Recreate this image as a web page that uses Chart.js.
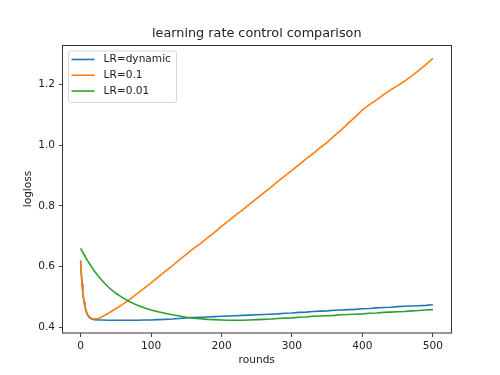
<!DOCTYPE html>
<html>
<head>
<meta charset="utf-8">
<script src="https://cdn.jsdelivr.net/npm/chart.js@4/dist/chart.umd.min.js"></script>
<style>
  html, body { margin: 0; padding: 0; background: #fff; }
  #lrChart { display: block; }
</style>
</head>
<body>
<canvas id="lrChart" width="500" height="375"></canvas>
<script>
// Data
const rounds = [0, 1, 2, 3, 4, 5, 6, 8, 10, 12, 15, 18, 20, 25, 30,
  40, 50, 60, 70, 80, 90, 100, 110, 120, 130, 140, 150, 160, 170, 180, 190,
  200, 210, 220, 230, 240, 250, 260, 270, 280, 290, 300, 310, 320, 330, 340,
  350, 360, 370, 380, 390, 400, 410, 420, 430, 440, 450, 460, 470, 480, 490, 500];

const lrDynamic = [0.620, 0.577, 0.543, 0.518, 0.497, 0.481, 0.468, 0.451, 0.440, 0.433, 0.428, 0.426, 0.425, 0.424, 0.424,
  0.423, 0.423, 0.423, 0.423, 0.423, 0.424, 0.424, 0.425, 0.426, 0.427, 0.429, 0.431, 0.432, 0.433, 0.434, 0.435,
  0.436, 0.437, 0.438, 0.439, 0.440, 0.441, 0.442, 0.443, 0.444, 0.446, 0.447, 0.449, 0.450, 0.452, 0.453,
  0.454, 0.456, 0.457, 0.458, 0.459, 0.461, 0.462, 0.464, 0.465, 0.466, 0.468, 0.469, 0.470, 0.471, 0.472, 0.474];

const lr01 = [0.620, 0.578, 0.545, 0.520, 0.500, 0.484, 0.471, 0.454, 0.443, 0.436, 0.430, 0.427, 0.427, 0.429, 0.434,
  0.447, 0.461, 0.476, 0.493, 0.510, 0.528, 0.546, 0.565, 0.584, 0.602, 0.622, 0.640, 0.659, 0.676, 0.695, 0.713,
  0.733, 0.751, 0.770, 0.787, 0.806, 0.825, 0.843, 0.861, 0.881, 0.899, 0.917, 0.936, 0.955, 0.973, 0.992,
  1.010, 1.031, 1.051, 1.073, 1.094, 1.117, 1.134, 1.150, 1.167, 1.183, 1.197, 1.212, 1.229, 1.247, 1.266, 1.287];

const lr001 = [0.660, 0.656, 0.651, 0.647, 0.643, 0.639, 0.635, 0.627, 0.619, 0.612, 0.601, 0.591, 0.584, 0.569, 0.555,
  0.531, 0.512, 0.497, 0.484, 0.473, 0.464, 0.457, 0.451, 0.446, 0.441, 0.437, 0.433, 0.430, 0.428, 0.426, 0.425,
  0.424, 0.423, 0.423, 0.423, 0.424, 0.425, 0.426, 0.427, 0.429, 0.430, 0.431, 0.433, 0.434, 0.436, 0.437,
  0.438, 0.439, 0.441, 0.442, 0.443, 0.444, 0.446, 0.447, 0.449, 0.450, 0.451, 0.452, 0.454, 0.455, 0.457, 0.458];

const seriesNames = ['LR=dynamic', 'LR=0.1', 'LR=0.01'];
const xTickValues = [0, 100, 200, 300, 400, 500];
const yTickValues = [0.4, 0.6, 0.8, 1.0, 1.2];

const FONT = 'DejaVu Sans';
const colors = ['#1f77b4', '#ff7f0e', '#2ca02c'];

function toPoints(ys) {
  return rounds.map((r, i) => ({ x: r, y: ys[i] }));
}

// frame (all four spines) + matplotlib style legend in the upper left
const framePlugin = {
  id: 'framePlugin',
  afterDraw(chart) {
    const ctx = chart.ctx;
    const a = chart.chartArea;
    ctx.save();
    ctx.strokeStyle = '#333';
    ctx.lineWidth = 1;
    ctx.strokeRect(Math.round(a.left) - 0.5, Math.round(a.top) + 0.5,
      Math.round(a.right - a.left) + 1, Math.round(a.bottom - a.top) - 0.5);

    // legend box
    const bx = a.left + 5, by = a.top + 5.5, bw = 108, bh = 51.5;
    ctx.beginPath();
    ctx.roundRect(bx + 0.5, by + 0.5, bw, bh, 2.5);
    ctx.fillStyle = 'rgba(255,255,255,0.8)';
    ctx.fill();
    ctx.strokeStyle = '#d6d6d6';
    ctx.lineWidth = 1;
    ctx.stroke();

    ctx.font = '10.6px "' + FONT + '"';
    ctx.textBaseline = 'middle';
    ctx.fillStyle = '#222';
    chart.data.datasets.forEach((ds, i) => {
      const rowY = by + 9 + i * 15.8;
      ctx.beginPath();
      ctx.moveTo(bx + 3.5, rowY);
      ctx.lineTo(bx + 26.5, rowY);
      ctx.strokeStyle = ds.borderColor;
      ctx.lineWidth = 1.6;
      ctx.stroke();
      ctx.fillText(ds.label, bx + 35.5, rowY);
    });
    ctx.restore();
  }
};

const ctx = document.getElementById('lrChart').getContext('2d');
const chart = new Chart(ctx, {
  type: 'line',
  data: {
    datasets: [
      { label: seriesNames[0], data: toPoints(lrDynamic), borderColor: colors[0], order: 3 },
      { label: seriesNames[1], data: toPoints(lr01), borderColor: colors[1], order: 2 },
      { label: seriesNames[2], data: toPoints(lr001), borderColor: colors[2], order: 1 }
    ]
  },
  options: {
    responsive: false,
    devicePixelRatio: 1,
    animation: false,
    layout: { padding: { left: 0, right: 49.5, top: 0, bottom: 0 } },
    elements: {
      line: { borderWidth: 1.6, tension: 0, fill: false },
      point: { radius: 0 }
    },
    plugins: {
      legend: { display: false },
      tooltip: { enabled: false },
      title: {
        display: true,
        text: 'learning rate control comparison',
        fullSize: false,
        color: '#222',
        font: { family: FONT, size: 12.8, weight: 'normal' },
        padding: { top: 26.3, bottom: 3.3 }
      }
    },
    scales: {
      x: {
        type: 'linear',
        min: -25,
        max: 525,
        afterBuildTicks: (scale) => { scale.ticks = xTickValues.map(v => ({ value: v })); },
        afterFit: (scale) => { scale.height = 42; },
        grid: { drawOnChartArea: false, drawTicks: true, tickLength: 4, color: '#333', lineWidth: 0.9 },
        border: { display: false },
        ticks: {
          padding: 3,
          color: '#222',
          maxRotation: 0,
          font: { family: FONT, size: 10.6 },
          callback: (v) => String(v)
        },
        title: {
          display: true,
          text: 'rounds',
          color: '#222',
          font: { family: FONT, size: 10.6 },
          padding: { top: 0, bottom: 8.3 }
        }
      },
      y: {
        type: 'linear',
        min: 0.381,
        max: 1.331,
        afterBuildTicks: (scale) => { scale.ticks = yTickValues.map(v => ({ value: v })); },
        afterFit: (scale) => { scale.width = 63; },
        grid: { drawOnChartArea: false, drawTicks: true, tickLength: 4, color: '#333', lineWidth: 0.9 },
        border: { display: false },
        ticks: {
          padding: 4,
          color: '#222',
          font: { family: FONT, size: 10.6 },
          callback: (v) => Number(v).toFixed(1)
        },
        title: {
          display: true,
          text: 'logloss',
          color: '#222',
          font: { family: FONT, size: 10.6 },
          padding: { top: 22.2, bottom: 0 }
        }
      }
    }
  },
  plugins: [framePlugin]
});
</script>
</body>
</html>
